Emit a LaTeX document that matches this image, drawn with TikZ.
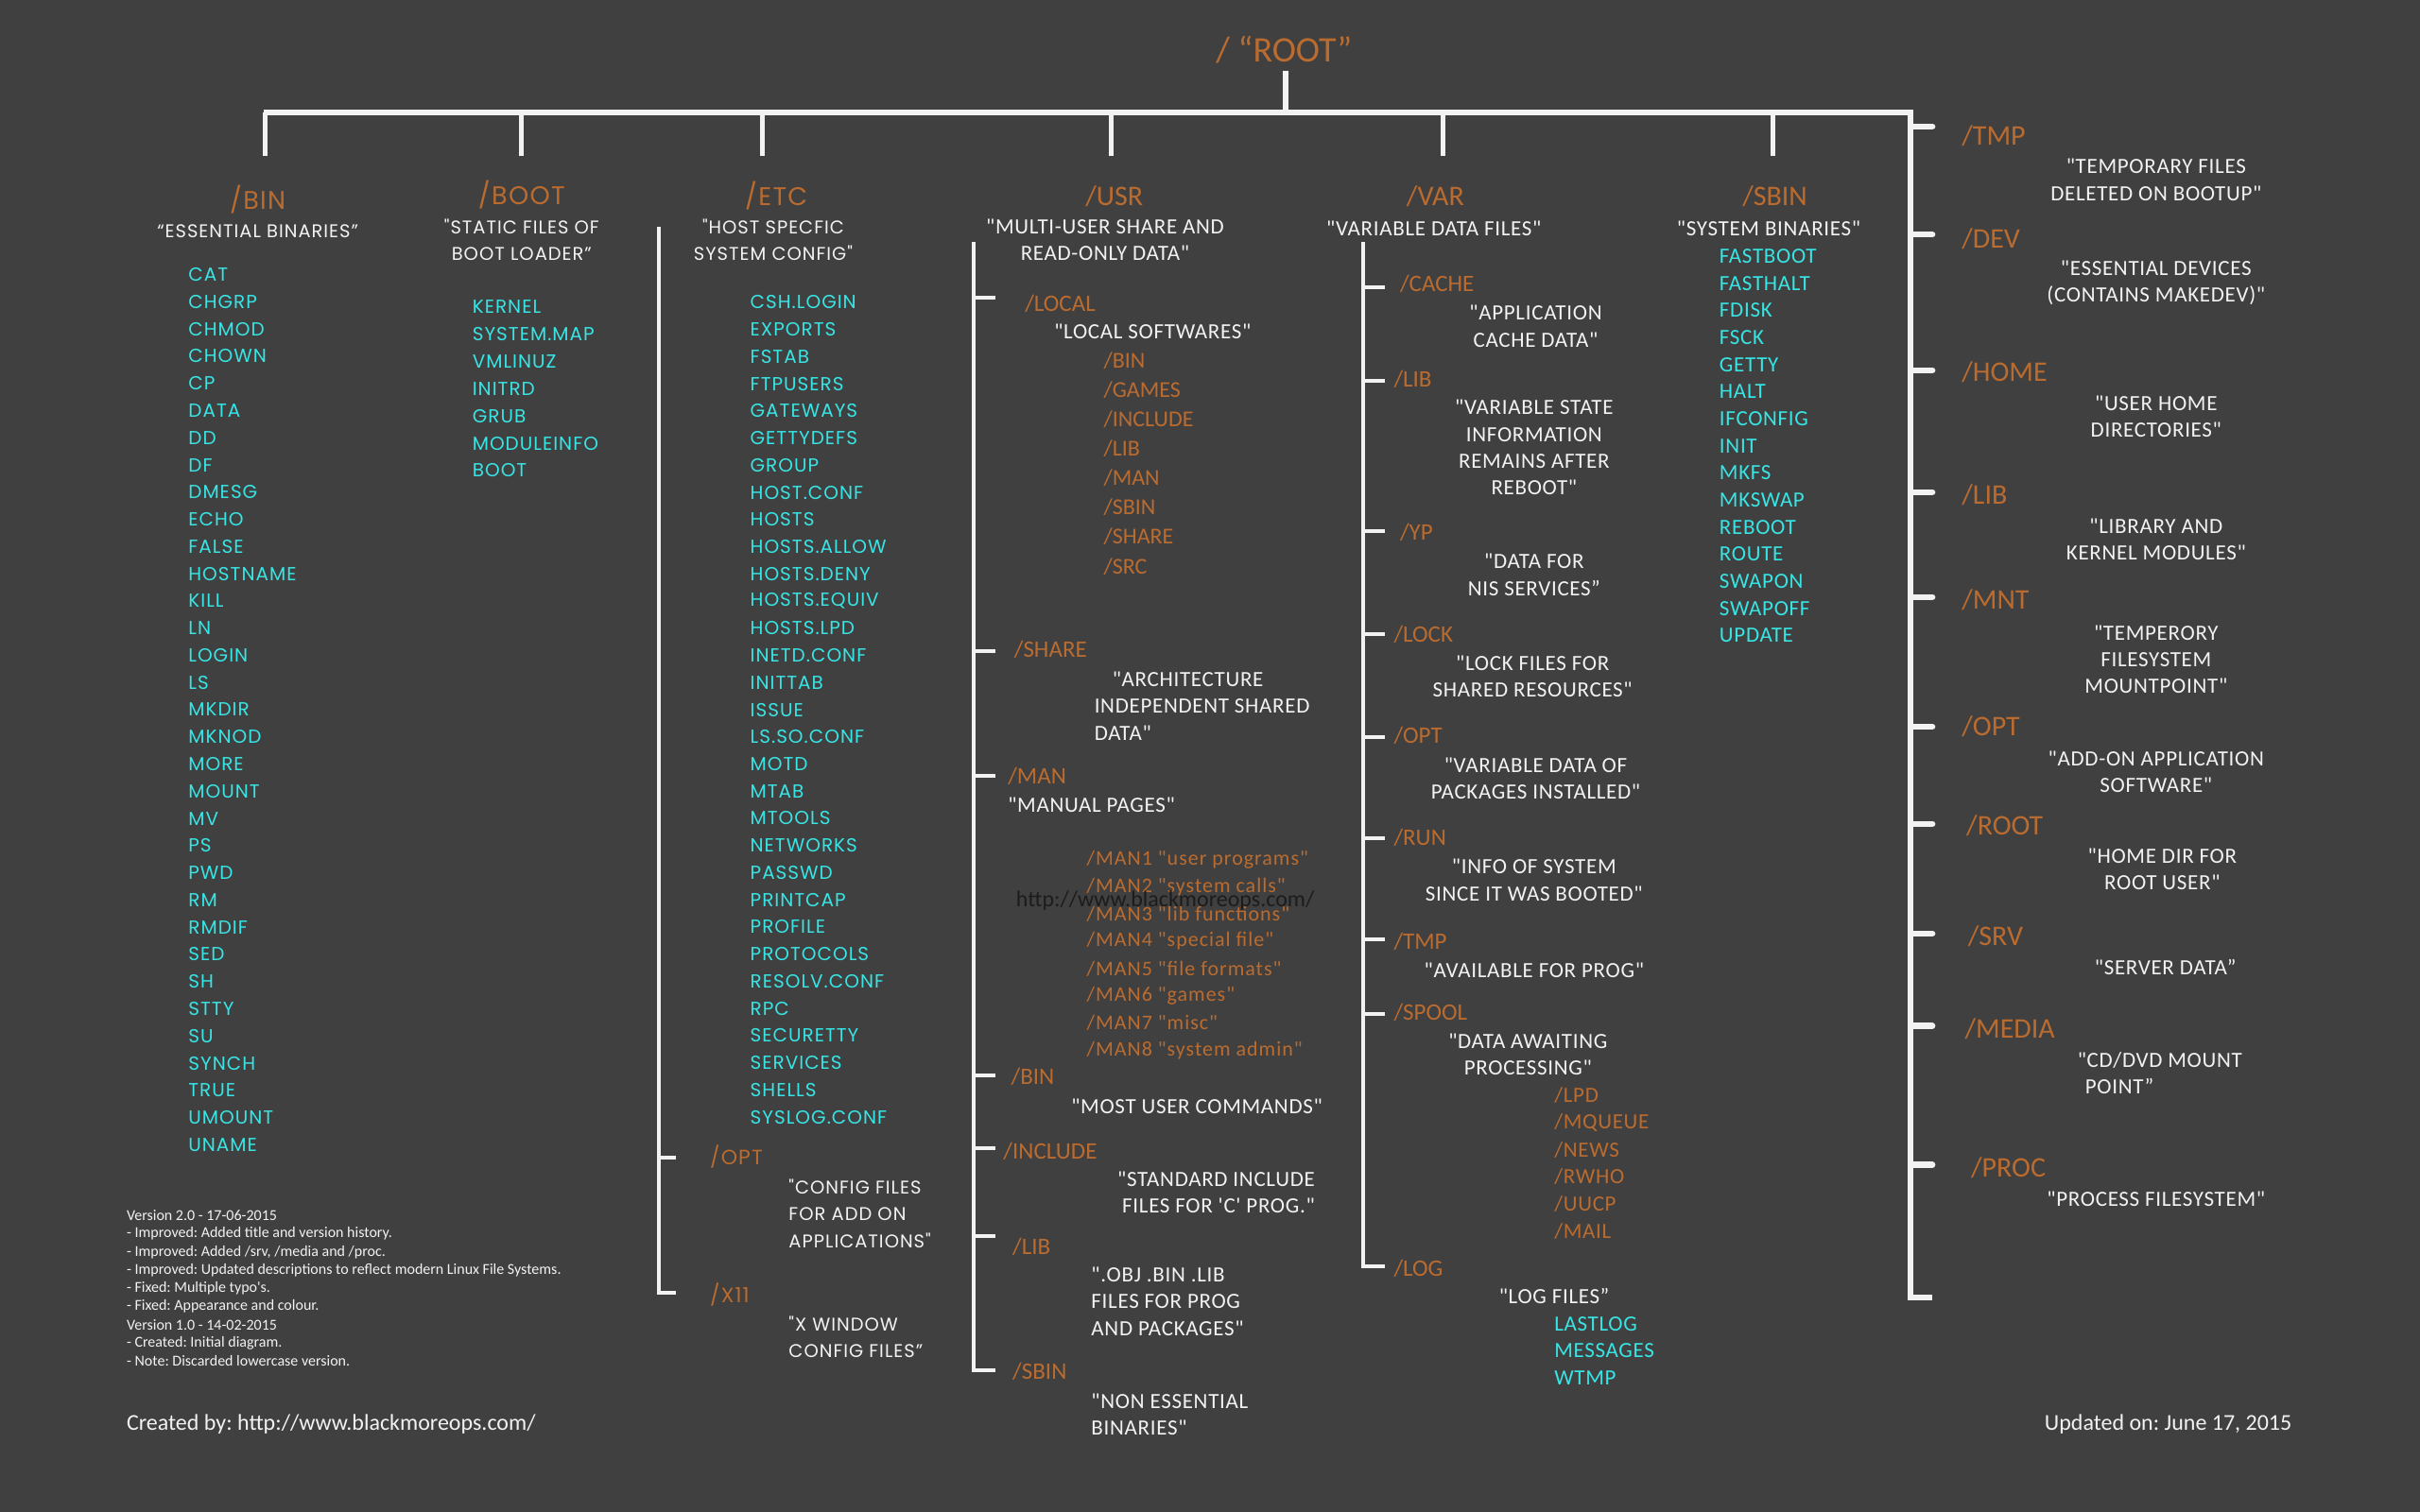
\documentclass[tikz,border=0pt]{standalone}
\usepackage{fontspec}
\setmainfont{Carlito}[Ligatures=TeXOff]
\newfontfamily\gf{Poppins}[Ligatures=TeXOff,LetterSpace=5]
\newfontfamily\cls{Carlito}[Ligatures=TeXOff,LetterSpace=3]
\newfontfamily\clm{Carlito}[Ligatures=TeXOff,LetterSpace=4.5]
\frenchspacing
\definecolor{bgc}{RGB}{64,64,64}
\definecolor{orng}{RGB}{186,108,48}
\definecolor{cyn}{RGB}{56,228,228}
\definecolor{wht}{RGB}{242,242,242}
\definecolor{wm}{RGB}{28,28,28}
\begin{document}
\begin{tikzpicture}[x=1.6327pt,y=-1.6327pt,
 trunk/.style={draw=wht,line width=6.5pt},
 drop/.style={draw=wht,line width=5pt},
 twig/.style={draw=wht,line width=4pt},
 tick/.style={draw=wht,line width=6.5pt,line cap=round},
 ttl/.style={text=orng,font=\fontsize{38}{40}\selectfont,inner sep=0pt},
 hd/.style={text=orng,font=\fontsize{30}{32}\selectfont,inner sep=0pt},
 rhd/.style={hd,anchor=west},
 ghd/.style={text=orng,font=\gf\fontsize{27}{30}\selectfont,inner sep=0pt},
 gsub/.style={text=orng,font=\gf\fontsize{22}{24}\selectfont,anchor=west,inner sep=0pt},
 sub/.style={text=orng,font=\fontsize{25}{28}\selectfont,anchor=west,inner sep=0pt},
 osm/.style={text=orng,font=\cls\fontsize{23}{26}\selectfont,anchor=west,inner sep=0pt},
 ds/.style={text=wht,font=\cls\fontsize{23}{28.3}\selectfont,align=center,inner sep=0pt},
 dsl/.style={ds,align=left,anchor=west},
 gds/.style={text=wht,font=\gf\fontsize{19.5}{27.8}\selectfont,align=center,inner sep=0pt},
 gdsl/.style={gds,font=\gf\fontsize{19.5}{28.6}\selectfont,align=left,anchor=west},
 it/.style={text=cyn,font=\cls\fontsize{23}{26}\selectfont,anchor=west,inner sep=0pt},
 git/.style={text=cyn,font=\gf\fontsize{20}{24}\selectfont,anchor=west,inner sep=0pt},
 note/.style={text=wht,font=\fontsize{16}{18}\selectfont,anchor=west,inner sep=0pt},
 foot/.style={text=wht,font=\fontsize{24}{26}\selectfont,inner sep=0pt}]
\fill[bgc] (0,0) rectangle (1568,980);
\useasboundingbox (0,0) rectangle (1568,980);

% ---------- root and main bar ----------
\node[ttl] (root) at (832,32) {/ “ROOT”};
\coordinate (stemT) at (833,46);
\coordinate (stemB) at (833,73);
\coordinate (barL) at (171,73);
\coordinate (barR) at (1238,73);
\coordinate (rBot) at (1238,841);
\coordinate (rBotT) at (1252,841);
\draw[trunk] (stemT) -- (stemB);
\draw[trunk,line join=miter] (barL) -- (barR) -- (rBot) -- (rBotT);
\foreach \n/\x in {bin/172,boot/338,etc/494,usr/720,var/935,sbin/1149}{
  \coordinate (\n T) at (\x,73);
  \coordinate (\n B) at (\x,101);
  \draw[drop] (\n T) -- (\n B);
}
\foreach \y [count=\i] in {82,152,240,319,387,471,534,605,665,755}{
  \coordinate (rj\i) at (1238,\y);
  \coordinate (rk\i) at (1252,\y);
  \draw[tick] (rj\i) -- (rk\i);
}

% ---------- /BIN ----------
\node[ghd] (binH) at (167,129) {/BIN};
\node[gds] (binD) at (167,150) {“ESSENTIAL BINARIES”};
\foreach \t [count=\i] in {CAT,CHGRP,CHMOD,CHOWN,CP,DATA,DD,DF,DMESG,ECHO,FALSE,HOSTNAME,KILL,LN,LOGIN,LS,MKDIR,MKNOD,MORE,MOUNT,MV,PS,PWD,RM,RMDIF,SED,SH,STTY,SU,SYNCH,TRUE,UMOUNT,UNAME}
  \node[git] (bin\i) at (122,{178+17.625*(\i-1)}) {\t};

% ---------- /BOOT ----------
\node[ghd] (bootH) at (338,126) {/BOOT};
\node[gds] (bootD) at (338,155.5) {"STATIC FILES OF\\BOOT LOADER”};
\foreach \t [count=\i] in {KERNEL,SYSTEM.MAP,VMLINUZ,INITRD,GRUB,MODULEINFO,BOOT}
  \node[git] (boot\i) at (306,{199+17.67*(\i-1)}) {\t};

% ---------- /ETC ----------
\node[ghd] (etcH) at (503,127) {/ETC};
\node[gds] (etcD) at (501,155.5) {"HOST SPECFIC\\SYSTEM CONFIG"};
\foreach \t [count=\i] in {CSH.LOGIN,EXPORTS,FSTAB,FTPUSERS,GATEWAYS,GETTYDEFS,GROUP,HOST.CONF,HOSTS,HOSTS.ALLOW,HOSTS.DENY,HOSTS.EQUIV,HOSTS.LPD,INETD.CONF,INITTAB,ISSUE,LS.SO.CONF,MOTD,MTAB,MTOOLS,NETWORKS,PASSWD,PRINTCAP,PROFILE,PROTOCOLS,RESOLV.CONF,RPC,SECURETTY,SERVICES,SHELLS,SYSLOG.CONF}
  \node[git] (etc\i) at (486,{196+17.6*(\i-1)}) {\t};
\coordinate (etcVT) at (427,147);
\coordinate (etcVB) at (427,838);
\coordinate (etcXk) at (438,838);
\coordinate (etcOj) at (427,750);
\coordinate (etcOk) at (438,750);
\draw[twig] (etcVT) -- (etcVB) -- (etcXk);
\draw[twig] (etcOj) -- (etcOk);
\node[gsub] (etcOpt) at (460,750) {/OPT};
\node[gdsl] (etcOptD) at (511,786.5) {"CONFIG FILES\\FOR ADD ON\\APPLICATIONS"};
\node[gsub] (etcX) at (460,839) {/X11};
\node[gdsl] (etcXD) at (511,866.5) {"X WINDOW\\CONFIG FILES”};

% ---------- /USR ----------
\node[hd] (usrH) at (722,127) {/USR};
\node[ds] (usrD) at (716,155.5) {"MULTI-USER SHARE AND\\READ-ONLY DATA"};
\coordinate (usrVT) at (631,157);
\coordinate (usrVB) at (631,888);
\coordinate (usrSk) at (645,888);
\draw[twig] (usrVT) -- (usrVB) -- (usrSk);
\foreach \y [count=\i] in {193,422,503,697,744,801}{
  \coordinate (uj\i) at (631,\y);
  \coordinate (uk\i) at (645,\y);
  \draw[twig] (uj\i) -- (uk\i);
}
\node[sub] (uLocal) at (664,197) {/LOCAL};
\node[dsl] (uLocalD) at (683,215) {"LOCAL SOFTWARES"};
\foreach \t [count=\i] in {/BIN,/GAMES,/INCLUDE,/LIB,/MAN,/SBIN,/SHARE,/SRC}
  \node[sub,font=\fontsize{24}{26}\selectfont] (ul\i) at (715,{234+19*(\i-1)}) {\t};
\node[sub] (uShare) at (657,421) {/SHARE};
\node[dsl] (uShareD) at (709,457.5) {\hspace*{19pt}"ARCHITECTURE\\INDEPENDENT SHARED\\DATA"};
\node[sub] (uMan) at (653,503) {/MAN};
\node[dsl] (uManD) at (653,522) {"MANUAL PAGES"};
\foreach \t [count=\i] in {/MAN1 "user programs",/MAN2 "system calls",/MAN3 "lib functions",/MAN4 "special file",/MAN5 "file formats",/MAN6 "games",/MAN7 "misc",/MAN8 "system admin"}
  \node[osm,font=\clm\fontsize{22}{24}\selectfont] (um\i) at (704,{557+17.7*(\i-1)}) {\t};
\node[text=wm,font=\fontsize{24}{26}\selectfont,inner sep=0pt] (wmark) at (755,584) {http://www.blackmoreops.com/};
\node[sub] (uBin) at (655,698) {/BIN};
\node[dsl] (uBinD) at (694,717) {"MOST USER COMMANDS"};
\node[sub] (uInc) at (650,746) {/INCLUDE};
\node[ds,align=right,anchor=east] (uIncD) at (852,773) {"STANDARD INCLUDE\\FILES FOR 'C' PROG."};
\node[sub] (uLib) at (656,808) {/LIB};
\node[dsl] (uLibD) at (707,843.5) {".OBJ .BIN .LIB\\FILES FOR PROG\\AND PACKAGES"};
\node[sub] (uSbin) at (656,889) {/SBIN};
\node[dsl] (uSbinD) at (707,917) {"NON ESSENTIAL\\BINARIES"};

% ---------- /VAR ----------
\node[hd] (varH) at (930,127) {/VAR};
\node[ds] (varD) at (929,148) {"VARIABLE DATA FILES"};
\coordinate (varVT) at (883,157);
\coordinate (varVB) at (883,821);
\coordinate (varLk) at (897,821);
\draw[twig] (varVT) -- (varVB) -- (varLk);
\foreach \y [count=\i] in {186,247,344,411,478,543,609,657}{
  \coordinate (vj\i) at (883,\y);
  \coordinate (vk\i) at (897,\y);
  \draw[twig] (vj\i) -- (vk\i);
}
\node[sub] (vCache) at (907,184) {/CACHE};
\node[ds] (vCacheD) at (995,211.5) {"APPLICATION\\CACHE DATA"};
\node[sub] (vLib) at (903,246) {/LIB};
\node[ds] (vLibD) at (994,290) {"VARIABLE STATE\\INFORMATION\\REMAINS AFTER\\REBOOT"};
\node[sub] (vYp) at (907,345) {/YP};
\node[ds] (vYpD) at (994,372.5) {"DATA FOR\\NIS SERVICES”};
\node[sub] (vLock) at (903,411) {/LOCK};
\node[ds] (vLockD) at (993,438.5) {"LOCK FILES FOR\\SHARED RESOURCES"};
\node[sub] (vOpt) at (903,477) {/OPT};
\node[ds] (vOptD) at (995,504.5) {"VARIABLE DATA OF\\PACKAGES INSTALLED"};
\node[sub] (vRun) at (903,543) {/RUN};
\node[ds] (vRunD) at (994,570.5) {"INFO OF SYSTEM\\SINCE IT WAS BOOTED"};
\node[sub] (vTmp) at (903,610) {/TMP};
\node[ds] (vTmpD) at (994,629) {"AVAILABLE FOR PROG"};
\node[sub] (vSpool) at (903,656) {/SPOOL};
\node[ds] (vSpoolD) at (990,683.5) {"DATA AWAITING\\PROCESSING"};
\foreach \t [count=\i] in {/LPD,/MQUEUE,/NEWS,/RWHO,/UUCP,/MAIL}
  \node[osm] (vs\i) at (1007,{710+17.6*(\i-1)}) {\t};
\node[sub] (vLog) at (903,822) {/LOG};
\node[ds] (vLogD) at (1007,840) {"LOG FILES”};
\foreach \t [count=\i] in {LASTLOG,MESSAGES,WTMP}
  \node[it] (vl\i) at (1007,{858+17.5*(\i-1)}) {\t};

% ---------- /SBIN ----------
\node[hd] (sbinH) at (1150,127) {/SBIN};
\node[ds] (sbinD) at (1146,148) {"SYSTEM BINARIES"};
\foreach \t [count=\i] in {FASTBOOT,FASTHALT,FDISK,FSCK,GETTY,HALT,IFCONFIG,INIT,MKFS,MKSWAP,REBOOT,ROUTE,SWAPON,SWAPOFF,UPDATE}
  \node[it] (sbin\i) at (1114,{166+17.57*(\i-1)}) {\t};

% ---------- right column ----------
\node[rhd] (rTmp) at (1271,88) {/TMP};
\node[ds] (rTmpD) at (1397,116.5) {"TEMPORARY FILES\\DELETED ON BOOTUP"};
\node[rhd] (rDev) at (1271,155) {/DEV};
\node[ds] (rDevD) at (1397,183.5) {"ESSENTIAL DEVICES\\(CONTAINS MAKEDEV)"};
\node[rhd] (rHome) at (1271,241) {/HOME};
\node[ds] (rHomeD) at (1397,270) {"USER HOME\\DIRECTORIES"};
\node[rhd] (rLib) at (1271,321) {/LIB};
\node[ds] (rLibD) at (1397,349.5) {"LIBRARY AND\\KERNEL MODULES"};
\node[rhd] (rMnt) at (1271,389) {/MNT};
\node[ds] (rMntD) at (1397,427.5) {"TEMPERORY\\FILESYSTEM\\MOUNTPOINT"};
\node[rhd] (rOpt) at (1271,471) {/OPT};
\node[ds] (rOptD) at (1397,500.5) {"ADD-ON APPLICATION\\SOFTWARE"};
\node[rhd] (rRoot) at (1274,535) {/ROOT};
\node[ds] (rRootD) at (1401,563.5) {"HOME DIR FOR\\ROOT USER"};
\node[rhd] (rSrv) at (1275,607) {/SRV};
\node[ds] (rSrvD) at (1403,627) {"SERVER DATA”};
\node[rhd] (rMedia) at (1273,667) {/MEDIA};
\node[dsl] (rMediaD) at (1346,695.5) {"CD/DVD MOUNT\\\hspace*{8pt}POINT”};
\node[rhd] (rProc) at (1277,757) {/PROC};
\node[ds] (rProcD) at (1397,777) {"PROCESS FILESYSTEM"};

% ---------- notes ----------
\foreach \t [count=\i] in {{Version 2.0 - 17-06-2015},{- Improved: Added title and version history.},{- Improved: Added /srv, /media and /proc.},{- Improved: Updated descriptions to reflect modern Linux File Systems.},{- Fixed: Multiple typo's.},{- Fixed: Appearance and colour.},{Version 1.0 - 14-02-2015},{- Created: Initial diagram.},{- Note: Discarded lowercase version.}}
  \node[note] (note\i) at (82,{788+11.75*(\i-1)}) {\t};
\node[foot,anchor=west] (created) at (82,923) {Created by: http://www.blackmoreops.com/};
\node[foot,anchor=east] (updated) at (1485,923) {Updated on: June 17, 2015};
\end{tikzpicture}
\end{document}
